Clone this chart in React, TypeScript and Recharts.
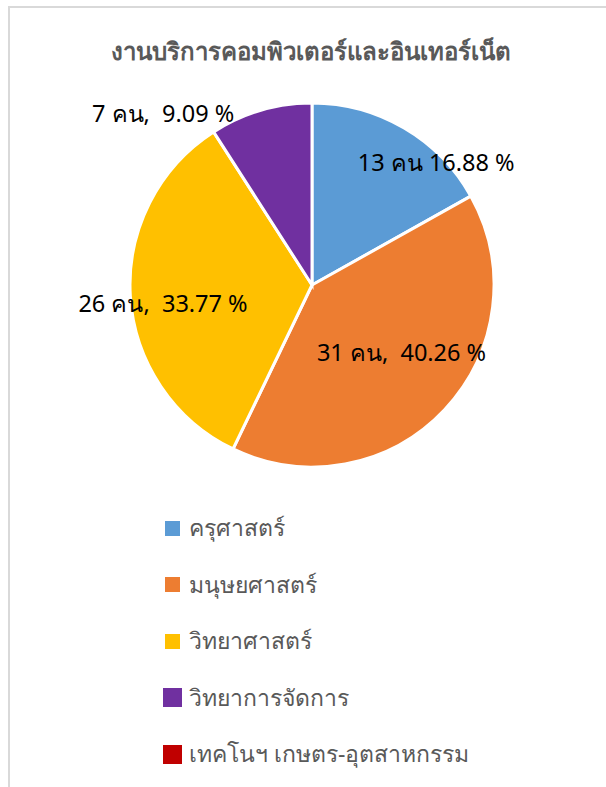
import React from 'react';
import { PieChart, Pie, Cell, Legend } from 'recharts';

const categories = ['ครุศาสตร์', 'มนุษยศาสตร์', 'วิทยาศาสตร์', 'วิทยาการจัดการ', 'เทคโนฯ เกษตร-อุตสาหกรรม'];
const counts = [13, 31, 26, 7, 0];
const colors = ['#5B9BD5', '#ED7D31', '#FFC000', '#7030A0', '#C00000'];
const separators = [' ', ',  ', ',  ', ',  ', ',  '];

const data = categories.map((name, i) => ({ name, value: counts[i] }));
const total = counts.reduce((a, b) => a + b, 0);

const FONT = '"Noto Sans", "DejaVu Sans", sans-serif';
const RADIAN = Math.PI / 180;

// where each label sits: fraction of the radius along the mid angle, then a nudge
const labelPlace = [
    { rf: 0.6, nx: 69, ny: -29 },
    { rf: 0.6, nx: 10, ny: -8 },
    { rf: 0.82, nx: 0, ny: 9 },
    { rf: 1.05, nx: -95, ny: 11 },
    { rf: 1, nx: 0, ny: 0 },
];

const renderLabel = (props: any) => {
    const { cx, cy, midAngle, outerRadius, index, value } = props;
    if (!value) return null;
    const p = labelPlace[index];
    const r = outerRadius * p.rf;
    const x = cx + r * Math.cos(-midAngle * RADIAN) + p.nx;
    const y = cy + r * Math.sin(-midAngle * RADIAN) + p.ny;
    const pct = ((value / total) * 100).toFixed(2);
    return (
        <text x={x} y={y} textAnchor="middle" dominantBaseline="central" fill="#000" fontSize={23.5} fontFamily={FONT} style={{ whiteSpace: 'pre' }}>
            {`${value} คน${separators[index]}${pct} %`}
        </text>
    );
};

const markerSizes = [15, 15, 15, 19, 19];

const renderLegend = () => (
    <div style={{ paddingLeft: 150 }}>
        {data.map((d, i) => (
            <div key={d.name} style={{ display: 'flex', alignItems: 'center', height: 56.5 }}>
                <div style={{ width: 24, display: 'flex', justifyContent: 'center' }}>
                    <div style={{ width: markerSizes[i], height: markerSizes[i], background: colors[i] }} />
                </div>
                <span style={{ marginLeft: 5, color: '#595959', fontSize: 23, fontFamily: FONT }}>{d.name}</span>
            </div>
        ))}
    </div>
);

export default function App() {
    return (
        <div
            style={{
                position: 'absolute',
                left: 8,
                top: 6,
                width: 598,
                height: 781,
                boxSizing: 'border-box',
                borderTop: '2px solid #d9d9d9',
                borderLeft: '2px solid #d9d9d9',
                background: '#fff',
                overflow: 'hidden',
            }}
        >
            <div
                style={{
                    position: 'absolute',
                    top: 24,
                    left: 0,
                    width: 602,
                    textAlign: 'center',
                    fontFamily: FONT,
                    fontWeight: 'bold',
                    fontSize: 24,
                    color: '#595959',
                }}
            >
                งานบริการคอมพิวเตอร์และอินเทอร์เน็ต
            </div>
            <PieChart width={596} height={779} style={{ position: 'absolute', left: 0, top: 0 }} margin={{ top: 0, right: 0, bottom: 0, left: 0 }}>
                <Pie
                    data={data}
                    dataKey="value"
                    nameKey="name"
                    cx={302}
                    cy={277}
                    outerRadius={182}
                    startAngle={90}
                    endAngle={-270}
                    stroke="#fff"
                    strokeWidth={3}
                    label={renderLabel}
                    labelLine={false}
                    isAnimationActive={false}
                >
                    {data.map((d, i) => (
                        <Cell key={d.name} fill={colors[i]} />
                    ))}
                </Pie>
                <Legend
                    layout="horizontal"
                    verticalAlign="bottom"
                    align="left"
                    content={renderLegend}
                    wrapperStyle={{ top: 492, left: 0, width: 596 }}
                />
            </PieChart>
        </div>
    );
}
